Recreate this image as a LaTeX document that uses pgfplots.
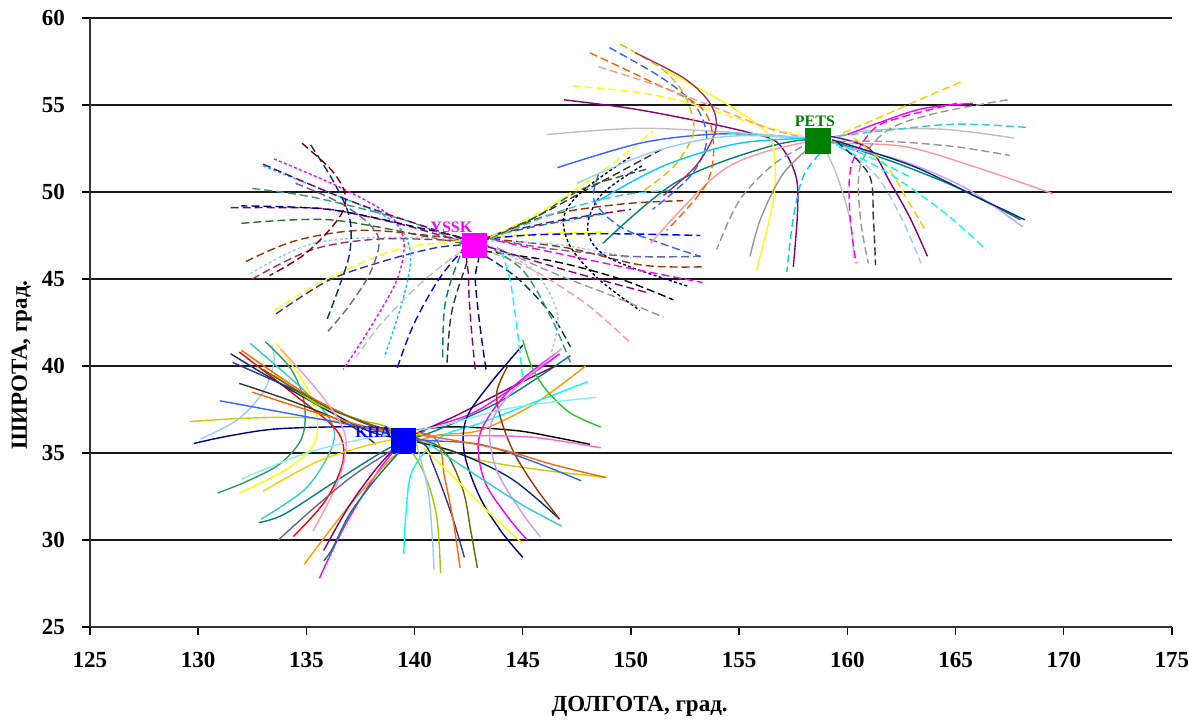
\documentclass[border=0pt]{standalone}
\usepackage{pgfplots}
\pgfplotsset{compat=1.18}
\usepackage{fontspec}
\setmainfont{Liberation Serif}
\definecolor{cnavy}{HTML}{000080}
\definecolor{cmag}{HTML}{FF00FF}
\definecolor{cyel}{HTML}{FFFF00}
\definecolor{ccyan}{HTML}{00FFFF}
\definecolor{cpurp}{HTML}{800080}
\definecolor{cmaroon}{HTML}{800000}
\definecolor{cteal}{HTML}{008080}
\definecolor{cblue}{HTML}{0000FF}
\definecolor{csky}{HTML}{00CCFF}
\definecolor{cpaleblue}{HTML}{99CCFF}
\definecolor{crose}{HTML}{FF99CC}
\definecolor{clav}{HTML}{CC99FF}
\definecolor{cblue2}{HTML}{3366FF}
\definecolor{caqua}{HTML}{33CCCC}
\definecolor{clime}{HTML}{99CC00}
\definecolor{cgold}{HTML}{FFCC00}
\definecolor{corange}{HTML}{FF9900}
\definecolor{corange2}{HTML}{FF6600}
\definecolor{cbgray}{HTML}{666699}
\definecolor{cgray}{HTML}{969696}
\definecolor{cdteal}{HTML}{003366}
\definecolor{csea}{HTML}{339966}
\definecolor{cdgreen}{HTML}{336633}
\definecolor{colive}{HTML}{666600}
\definecolor{cbrown}{HTML}{993300}
\definecolor{cplum}{HTML}{993366}
\definecolor{cindigo}{HTML}{333399}
\definecolor{cdgray}{HTML}{333333}
\definecolor{cred}{HTML}{FF0000}
\definecolor{cgreen}{HTML}{22CC22}
\definecolor{clgray}{HTML}{C0C0C0}
\definecolor{csalmon}{HTML}{FF9999}
\definecolor{cyol}{HTML}{CCCC00}
\definecolor{cpink}{HTML}{FF66CC}
\definecolor{cltcyan}{HTML}{88EEEE}
\definecolor{cgreenp}{HTML}{008000}
\pgfplotsset{
  cv/.style={smooth, tension=0.55, line width=0.7pt, mark=none},
  dsh/.style={cv, dash pattern=on 4pt off 2pt},
  dtt/.style={cv, dash pattern=on 1.5pt off 1.2pt},
}
\begin{document}
\begin{tikzpicture}
\useasboundingbox (0,0) rectangle (594.5pt,359.5pt);
\begin{axis}[
  at={(45pt,46pt)}, anchor=south west,
  width=541pt, height=304.5pt, scale only axis,
  xmin=125, xmax=175, ymin=25, ymax=60,
  xtick={125,130,...,175}, ytick={25,30,...,60},
  axis x line*=bottom, axis y line*=left,
  axis line style={-, black!80, line width=0.8pt},
  ymajorgrids, grid style={black!90, line width=0.75pt},
  tick align=outside, major tick length=4pt,
  tick style={black, line width=0.7pt},
  ticklabel style={font=\bfseries\fontsize{11.5}{13}\selectfont},
  /pgf/number format/assume math mode=true,
  xticklabel style={yshift=-5pt},
  yticklabel style={xshift=-5pt},
  xlabel={ДОЛГОТА, град.},
  ylabel={ШИРОТА, град.},
  label style={font=\bfseries\fontsize{11.5}{13}\selectfont},
  xlabel style={at={(axis description cs:0.508,-0.131)}, anchor=center},
  ylabel style={at={(axis description cs:-0.063,0.43)}, anchor=center},
]
% ---- station squares ----
\addplot[only marks, mark=square*, mark size=6pt, color=cblue] coordinates {(139.46,35.72)};
\addplot[only marks, mark=square*, mark size=6pt, color=cmag] coordinates {(142.75,46.95)};
\addplot[only marks, mark=square*, mark size=6.3pt, color=cgreenp] coordinates {(158.64,52.94)};

% ================= KHA (solid) =================
\addplot[cv, cnavy] coordinates {(129.8,35.55) (131.5,36.0) (133.8,36.4) (137.8,36.5) (139.8,36.2)};
\addplot[cv, black] coordinates {(139.0,36.1) (141.5,36.5) (144.6,36.3) (146.5,35.9) (148.1,35.5)};
\addplot[cv, cyol] coordinates {(129.6,36.8) (132.2,37.0) (135.3,37.0) (138.4,36.3) (140.5,35.6) (143.0,34.6) (146.0,34.0) (148.9,33.6)};
\addplot[cv, cpaleblue] coordinates {(130.1,35.8) (131.8,36.9) (133.0,38.5) (133.5,40.2) (133.4,41.2)};
\addplot[cv, csea] coordinates {(133.1,41.4) (134.3,39.8) (134.9,37.9) (134.8,35.9) (133.8,34.4) (132.3,33.4) (130.9,32.7)};
\addplot[cv, cyel] coordinates {(133.6,41.3) (134.9,39.0) (135.5,37.1) (135.3,35.4) (134.0,34.0) (131.9,32.7)};
\addplot[cv, caqua] coordinates {(132.4,41.3) (134.8,38.7) (136.1,36.9) (136.2,35.4) (135.0,33.0) (132.9,31.2)};
\addplot[cv, cred] coordinates {(131.9,40.8) (134.5,38.3) (136.4,36.3) (136.7,34.6) (135.9,32.3) (134.4,30.2)};
\addplot[cv, cdgray] coordinates {(131.9,39.0) (134.5,37.9) (137.0,36.6) (138.2,35.5)};
\addplot[cv, cdteal] coordinates {(131.5,40.7) (134.6,38.4) (137.8,36.3) (139.9,35.7) (142.0,35.0) (144.5,33.5) (146.7,31.2)};
\addplot[cv, cteal] coordinates {(147.2,40.6) (144.0,38.0) (141.0,36.3) (139.0,35.4) (136.5,33.5) (134.0,31.5) (132.8,31.0)};
\addplot[cv, cmag] coordinates {(135.6,27.8) (136.9,31.1) (138.7,34.6) (140.2,36.2) (143.0,37.5) (146.7,40.7)};
\addplot[cv, corange] coordinates {(134.9,28.6) (137.0,32.0) (139.3,35.1) (141.0,36.0) (143.0,36.3) (145.5,37.8) (147.9,40.0)};
\addplot[cv, cpurp] coordinates {(135.8,29.4) (137.0,32.0) (138.5,34.5) (139.8,35.9) (142.0,37.2) (144.5,38.8) (146.5,40.0)};
\addplot[cv, ccyan] coordinates {(139.5,29.2) (139.6,31.5) (139.9,34.0) (141.2,35.9) (143.0,36.7) (145.5,37.9) (148.0,39.1)};
\addplot[cv, clime] coordinates {(141.2,28.1) (141.0,31.5) (140.3,34.2) (139.0,36.3) (137.5,36.9) (135.5,37.8) (133.5,39.5)};
\addplot[cv, cindigo] coordinates {(131.6,40.2) (134.5,38.6) (137.5,36.8) (140.3,35.6) (140.8,34.5) (141.7,31.5) (142.3,29.0)};
\addplot[cv, corange2] coordinates {(132.0,40.9) (135.5,38.0) (138.5,36.4) (140.9,35.9) (141.4,33.5) (141.8,31.0) (142.1,28.4)};
\addplot[cv, colive] coordinates {(133.0,39.8) (136.0,37.6) (139.0,36.2) (141.2,35.3) (142.2,33.0) (142.6,30.5) (142.9,28.4)};
\addplot[cv, cnavy] coordinates {(145.0,41.2) (143.5,39.0) (142.4,37.0) (142.3,35.0) (143.0,32.5) (144.0,30.5) (145.0,29.0)};
\addplot[cv, cmag] coordinates {(146.5,40.7) (144.3,38.5) (143.0,36.0) (143.2,33.5) (144.2,31.5) (145.2,30.0)};
\addplot[cv, cbrown] coordinates {(144.3,40.0) (143.8,38.5) (144.0,36.9) (144.6,35.0) (145.6,33.0) (146.7,31.2)};
\addplot[cv, cblue2] coordinates {(131.0,38.0) (134.5,37.2) (137.5,36.5) (140.0,35.8) (143.0,35.5) (145.5,34.5) (147.7,33.4)};
\addplot[cv, corange2] coordinates {(132.5,38.5) (135.5,37.3) (138.5,36.3) (141.0,35.9) (144.0,35.2) (146.5,34.3) (148.8,33.6)};
\addplot[cv, cgreen] coordinates {(145.0,41.5) (145.4,40.0) (146.1,38.6) (147.2,37.3) (148.6,36.5)};
\addplot[cv, cltcyan] coordinates {(132.0,33.5) (135.0,35.0) (138.0,35.9) (141.0,36.5) (144.5,37.6) (148.4,38.2)};
\addplot[cv, crose] coordinates {(133.8,41.0) (135.7,38.3) (136.8,36.0) (136.5,33.5) (135.3,30.5)};
\addplot[cv, cpaleblue] coordinates {(140.0,35.9) (140.6,33.0) (140.8,30.5) (140.9,28.3)};
\addplot[cv, clav] coordinates {(146.8,41.0) (144.5,38.5) (143.5,36.5) (143.8,34.0) (145.0,31.5) (145.8,30.2)};
\addplot[cv, cbgray] coordinates {(140.5,36.3) (137.5,34.0) (135.5,32.0) (133.7,30.0)};
\addplot[cv, cteal] coordinates {(139.4,35.2) (138.2,33.5) (137.0,31.5) (136.2,29.5) (135.8,28.8)};
\addplot[cv, cpink] coordinates {(140.5,36.0) (142.5,36.0) (145.5,35.9) (148.6,35.3)};
\addplot[cv, caqua] coordinates {(140.8,35.4) (142.5,34.0) (145.0,32.0) (146.8,30.8)};
\addplot[cv, cyel] coordinates {(140.4,35.3) (141.5,34.0) (143.5,31.5) (145.0,29.8)};
\addplot[cv, cgold] coordinates {(133.0,32.8) (135.5,34.5) (138.0,35.5) (140.3,36.1)};

% ================= YSSK (dashed) =================
\addplot[dsh, cpurp] coordinates {(131.5,49.1) (134.0,49.1) (136.1,49.0) (139.2,48.2) (141.5,47.4) (142.8,47.0)};
\addplot[dsh, cdgreen] coordinates {(132.0,48.2) (136.1,48.4) (140.7,47.4) (142.4,47.0)};
\addplot[dsh, csea] coordinates {(132.5,50.2) (135.3,49.7) (139.5,48.4) (142.2,47.1)};
\addplot[dsh, cbrown] coordinates {(132.2,46.0) (134.5,47.2) (137.6,47.8) (141.5,47.4) (143.5,47.3) (147.0,46.8) (150.5,45.8) (153.3,45.7)};
\addplot[dtt, cpaleblue] coordinates {(132.4,45.3) (135.3,47.05) (139.2,47.4) (142.5,47.2) (146.5,47.0) (150.0,46.2)};
\addplot[dsh, cplum] coordinates {(132.5,45.0) (135.3,46.7) (138.4,47.3) (142.0,47.2)};
\addplot[dsh, cyel] coordinates {(133.5,43.2) (136.1,45.1) (139.2,46.7) (142.1,47.2) (145.5,47.6) (149.0,47.7)};
\addplot[dsh, cindigo] coordinates {(133.6,43.0) (136.0,44.9) (138.5,46.0) (141.0,46.8) (142.8,47.0)};
\addplot[dsh, cdteal] coordinates {(135.2,52.7) (136.3,50.5) (137.0,48.5) (137.0,46.5) (136.5,44.5) (135.9,42.5)};
\addplot[dtt, cmag] coordinates {(133.5,51.9) (136.5,50.3) (138.8,48.7) (139.5,47.2) (139.2,45.0) (138.0,42.3) (136.7,39.8)};
\addplot[dtt, csky] coordinates {(133.0,51.5) (136.0,50.0) (138.9,48.4) (139.8,46.6) (139.5,44.0) (138.6,40.5)};
\addplot[dsh, cbgray] coordinates {(134.5,50.5) (136.8,49.2) (138.3,47.5) (138.0,45.5) (137.0,43.5) (136.0,42.0)};
\addplot[dsh, cmaroon] coordinates {(134.8,52.8) (136.2,51.2) (136.8,49.8) (136.5,48.5) (135.0,46.5) (133.3,45.2)};
\addplot[dsh, cblue] coordinates {(139.2,39.9) (140.0,42.5) (141.3,45.3) (142.7,47.0) (145.0,47.5) (149.0,47.6) (153.2,47.5)};
\addplot[dsh, cdgray] coordinates {(141.5,40.2) (141.7,43.0) (142.3,45.5) (142.9,47.0) (145.5,48.5) (148.5,50.5) (151.5,52.5)};
\addplot[dsh, cpurp] coordinates {(142.8,39.8) (142.6,42.5) (142.5,45.0) (142.7,47.0) (146.0,48.2) (150.0,49.0)};
\addplot[dsh, cnavy] coordinates {(143.3,39.8) (143.0,42.5) (142.8,45.0) (142.8,47.0) (140.0,48.0) (136.0,49.0) (132.0,49.2)};
\addplot[dsh, cteal] coordinates {(141.3,40.5) (141.4,43.5) (142.0,46.0) (142.6,47.1) (145.5,48.0) (149.0,48.8)};
\addplot[dtt, black] coordinates {(149.95,52.0) (147.8,50.1) (146.9,48.6) (147.2,46.86) (148.5,45.0) (150.4,43.2)};
\addplot[dtt, cnavy] coordinates {(150.5,51.5) (148.6,49.8) (148.0,47.8) (149.0,46.2) (152.6,44.6)};
\addplot[dsh, cbgray] coordinates {(143.5,47.3) (146.5,46.7) (150.0,46.3) (153.3,46.3)};
\addplot[dsh, cmag] coordinates {(143.8,47.2) (146.5,46.5) (150.0,45.6) (153.3,44.8)};
\addplot[dsh, black] coordinates {(143.2,46.6) (146.5,46.0) (149.5,45.0) (151.96,43.8)};
\addplot[dsh, cgray] coordinates {(143.8,46.8) (146.5,45.3) (149.2,44.0) (151.5,42.8)};
\addplot[dsh, csalmon] coordinates {(143.6,46.5) (145.5,45.5) (148.0,43.5) (150.0,41.3)};
\addplot[dsh, cdteal] coordinates {(143.3,46.3) (144.8,45.0) (146.3,43.0) (147.2,41.1)};
\addplot[dsh, ccyan] coordinates {(144.0,46.6) (144.4,45.0) (144.7,42.5) (145.0,39.3)};
\addplot[dtt, cpaleblue] coordinates {(143.3,47.0) (145.5,45.5) (146.6,43.0) (146.3,40.7)};
\addplot[dsh, csea] coordinates {(143.2,47.0) (145.0,45.5) (146.3,42.8) (147.2,40.2)};
\addplot[dsh, cdgreen] coordinates {(142.8,47.0) (145.5,48.5) (147.8,50.2) (150.7,51.3)};
\addplot[dsh, cyel] coordinates {(143.0,47.1) (146.0,49.0) (149.0,51.5) (151.0,53.5)};
\addplot[dsh, cbrown] coordinates {(143.0,47.0) (146.0,48.6) (149.5,49.3) (152.4,49.5)};
\addplot[dsh, caqua] coordinates {(143.0,47.0) (146.5,48.8) (149.5,49.8) (151.8,50.1)};
\addplot[dsh, clgray] coordinates {(142.6,47.0) (140.5,45.0) (138.5,42.5) (137.3,40.5)};
\addplot[dsh, cpurp] coordinates {(133.0,51.6) (137.0,49.5) (141.0,47.8) (143.0,47.0) (147.0,45.5) (150.8,44.2)};
\addplot[dsh, cblue2] coordinates {(148.5,51.0) (148.3,49.5) (149.5,48.0) (151.5,47.0) (153.2,46.3)};

% ================= PETS (mixed) =================
\addplot[cv, cpurp] coordinates {(146.9,55.3) (150.0,54.8) (153.0,54.1) (155.5,53.4) (156.8,52.8) (157.6,51.0) (157.7,49.0) (157.5,45.7)};
\addplot[cv, cblue2] coordinates {(146.6,51.4) (150.4,52.8) (153.5,53.3) (156.0,53.3) (158.6,53.0)};
\addplot[cv, clgray] coordinates {(146.1,53.3) (150.4,53.66) (155.0,53.4) (158.6,53.1) (161.2,53.56) (164.5,53.6) (167.7,53.1)};
\addplot[cv, cteal] coordinates {(148.7,47.05) (152.0,50.5) (155.8,52.4) (158.6,53.0) (161.5,52.0) (165.0,50.3) (168.0,48.4)};
\addplot[cv, csalmon] coordinates {(150.9,47.05) (154.3,51.3) (157.8,52.8) (159.5,52.8) (162.7,52.6) (166.0,51.4) (169.5,49.9)};
\addplot[cv, cyel] coordinates {(151.6,57.0) (154.5,55.0) (156.2,53.5) (156.6,52.4) (156.6,49.7) (155.8,45.5)};
\addplot[dsh, cgray] coordinates {(157.9,52.6) (156.5,51.5) (155.0,49.5) (153.96,46.7)};
\addplot[cv, cgray] coordinates {(158.2,52.5) (157.0,51.0) (156.0,48.5) (155.5,46.3)};
\addplot[dsh, csky] coordinates {(159.1,52.7) (158.0,51.0) (157.5,48.5) (157.2,45.4)};
\addplot[cv, clgray] coordinates {(158.8,52.9) (159.5,51.0) (160.1,48.5) (160.3,46.2)};
\addplot[dsh, cmag] coordinates {(165.05,55.1) (162.5,54.3) (161.2,53.6) (160.2,51.6) (160.1,49.0) (160.4,45.9)};
\addplot[dsh, cgray] coordinates {(167.4,55.3) (164.0,54.5) (161.8,53.5) (160.6,51.5) (160.6,48.5) (160.97,45.9)};
\addplot[cv, cpurp] coordinates {(159.2,53.2) (161.0,52.5) (162.0,50.5) (162.9,48.5) (163.7,46.3)};
\addplot[dsh, cpaleblue] coordinates {(159.5,52.8) (161.3,51.0) (162.5,48.5) (163.4,45.9)};
\addplot[dsh, cgold] coordinates {(160.3,53.1) (161.8,51.5) (162.8,49.5) (163.6,47.8)};
\addplot[dsh, ccyan] coordinates {(159.6,52.6) (162.0,51.0) (164.5,48.8) (166.4,46.7)};
\addplot[dsh, cgold] coordinates {(159.8,53.4) (161.5,54.3) (163.5,55.4) (165.4,56.4)};
\addplot[cv, cmag] coordinates {(160.0,53.3) (161.5,54.0) (163.5,54.8) (165.8,55.1)};
\addplot[dsh, caqua] coordinates {(159.6,53.2) (161.5,53.5) (165.0,53.9) (168.4,53.7)};
\addplot[dsh, cgray] coordinates {(159.0,52.9) (162.0,52.9) (165.0,52.6) (167.5,52.1)};
\addplot[cv, clav] coordinates {(159.5,52.7) (162.5,51.8) (165.5,50.2) (168.1,48.0)};
\addplot[dsh, cblue2] coordinates {(149.0,58.3) (151.5,56.5) (153.0,54.9) (153.5,53.0) (152.8,51.0) (151.0,49.0)};
\addplot[dsh, corange2] coordinates {(148.1,58.0) (151.0,56.3) (153.2,54.9) (153.8,53.0) (153.5,50.5) (151.65,47.8)};
\addplot[dsh, cyol] coordinates {(149.5,58.5) (151.5,57.0) (152.5,55.5) (152.9,53.5) (152.0,51.5) (150.5,50.0)};
\addplot[dsh, cyel] coordinates {(147.3,56.1) (150.5,55.7) (153.0,55.0) (155.5,54.0) (158.0,53.2)};
\addplot[dsh, csalmon] coordinates {(148.5,57.2) (151.5,56.0) (154.0,54.8) (156.5,53.6) (158.5,53.0)};
\addplot[cv, cplum] coordinates {(150.2,58.0) (152.5,56.5) (153.7,55.0) (153.9,53.5) (153.0,51.5) (151.5,49.8)};
\addplot[dsh, ccyan] coordinates {(154.5,53.4) (156.5,53.2) (158.6,53.0) (160.5,52.3) (163.0,50.8)};
\addplot[cv, csky] coordinates {(148.5,49.5) (151.5,51.5) (155.0,52.8) (158.6,53.1)};
\addplot[cv, cpaleblue] coordinates {(147.5,50.5) (151.0,52.3) (154.5,53.2) (158.5,53.1)};
\addplot[dsh, cdgray] coordinates {(159.5,52.9) (161.0,51.0) (161.2,48.5) (161.3,45.8)};
\addplot[cv, cdteal] coordinates {(159.3,53.0) (163.0,51.5) (166.0,49.7) (168.2,48.4)};

% ---- station labels ----
\node[font=\bfseries\fontsize{8}{9}\selectfont, text=cblue] at (axis cs:138.1,36.2) {KHA};
\node[font=\bfseries\fontsize{8}{9}\selectfont, text=cmag] at (axis cs:141.7,48.0) {YSSK};
\node[font=\bfseries\fontsize{8}{9}\selectfont, text=cgreenp] at (axis cs:158.5,54.05) {PETS};
\end{axis}
\end{tikzpicture}
\end{document}
